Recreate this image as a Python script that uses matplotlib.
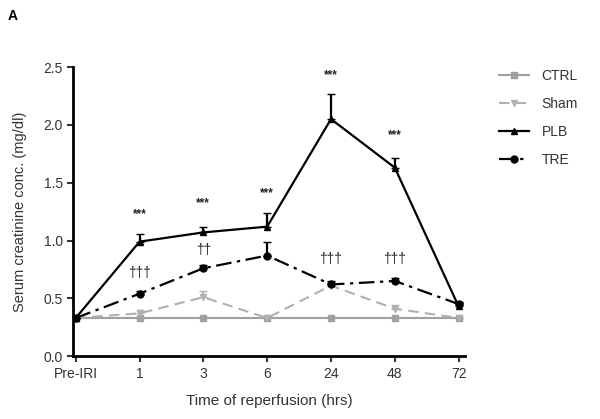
import matplotlib.pyplot as plt
import numpy as np

plt.rcParams['font.family'] = ['Liberation Sans', 'DejaVu Sans']

labels = ['Pre-IRI', '1', '3', '6', '24', '48', '72']
ctrl = [0.33, 0.33, 0.33, 0.33, 0.33, 0.33, 0.33]
sham = [0.33, 0.37, 0.51, 0.33, 0.61, 0.41, 0.33]
sham_err = [0.0, 0.03, 0.05, 0.0, 0.03, 0.03, 0.0]
plb = [0.33, 0.99, 1.07, 1.12, 2.05, 1.63, 0.43]
plb_err = [0.0, 0.07, 0.05, 0.12, 0.22, 0.08, 0.03]
tre = [0.33, 0.54, 0.76, 0.87, 0.62, 0.65, 0.45]
tre_err = [0.0, 0.02, 0.03, 0.12, 0.03, 0.03, 0.02]

star_y = [None, 1.23, 1.32, 1.41, 2.43, 1.91, None]
dag_txt = [None, '†††', '††', None, '†††', '†††', None]
dag_y = [None, 0.72, 0.92, None, 0.84, 0.84, None]

x = np.arange(len(labels))

fig = plt.figure(figsize=(6, 4.19), dpi=100)
ax = fig.add_axes([0.122, 0.15, 0.653, 0.69])

lg = '#a0a0a0'
e1 = ax.errorbar(x, ctrl, color=lg, marker='s', ms=4, lw=1.5)
e2 = ax.errorbar(x, sham, yerr=[np.zeros(7), sham_err], color='#b0b0b0', marker='v', ms=4,
                 lw=1.5, ls=(0, (5, 3)), capsize=3)
e3 = ax.errorbar(x, plb, yerr=[np.zeros(7), plb_err], color='k', marker='^', ms=4.5,
                 lw=1.6, capsize=3)
e4 = ax.errorbar(x, tre, yerr=[np.zeros(7), tre_err], color='k', marker='o', ms=5,
                 lw=1.6, ls=(0, (7, 2.5, 1.5, 2.5)), capsize=3)

for i in range(len(labels)):
    if star_y[i] is not None:
        ax.text(x[i], star_y[i], '***', ha='center', va='center', fontsize=8.5,
                fontweight='bold', color='#222222')
    if dag_txt[i] is not None:
        ax.text(x[i], dag_y[i], dag_txt[i], ha='center', va='center', fontsize=10,
                color='#222222')

ax.set_xlim(-0.04, 6.1)
ax.set_ylim(0, 2.5)
ax.set_yticks(np.arange(0, 2.51, 0.5))
ax.set_yticklabels(['%.1f' % v for v in np.arange(0, 2.51, 0.5)])
ax.set_xticks(x)
ax.set_xticklabels(labels)
ax.tick_params(labelsize=10, width=1.5, length=4, colors='#333333')
for s in ['top', 'right']:
    ax.spines[s].set_visible(False)
for s in ['left', 'bottom']:
    ax.spines[s].set_linewidth(2)
ax.set_ylabel('Serum creatinine conc. (mg/dl)', fontsize=10.5, color='#333333', labelpad=12)
ax.set_xlabel('Time of reperfusion (hrs)', fontsize=11, color='#333333', labelpad=10)

fig.legend([e1[0], e2[0], e3[0], e4[0]], ['CTRL', 'Sham', 'PLB', 'TRE'],
           loc='upper left', bbox_to_anchor=(0.81, 0.865), frameon=False, fontsize=10,
           labelspacing=1.0, handlelength=2.2, handletextpad=0.9, labelcolor='#333333')

fig.text(0.012, 0.962, 'A', fontsize=10, fontweight='bold', va='center')

fig.savefig('out.png', dpi=100)
